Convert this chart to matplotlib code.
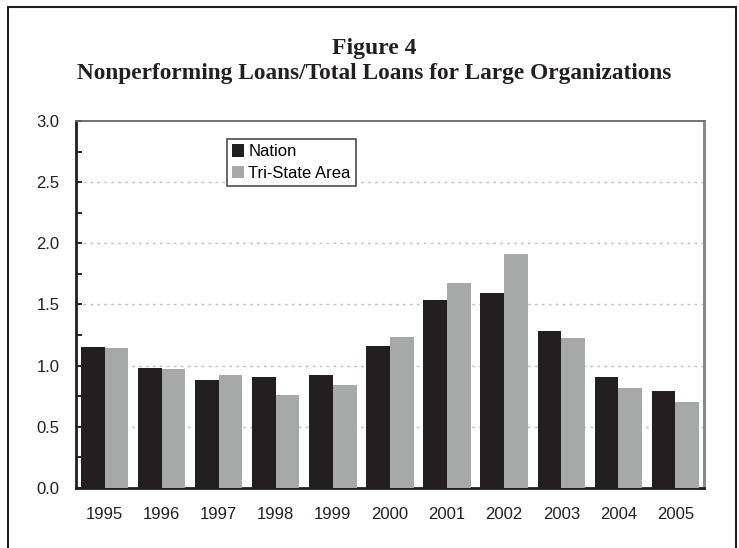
import numpy as np
import matplotlib.pyplot as plt
from matplotlib.patches import Rectangle

# values
years = ['1995', '1996', '1997', '1998', '1999', '2000',
         '2001', '2002', '2003', '2004', '2005']
nation = [1.15, 0.98, 0.88, 0.91, 0.92, 1.16, 1.54, 1.595, 1.285, 0.905, 0.79]
tri_state = [1.145, 0.975, 0.92, 0.76, 0.84, 1.235, 1.675, 1.91, 1.225, 0.815, 0.70]
y_ticks = [0.0, 0.5, 1.0, 1.5, 2.0, 2.5, 3.0]

plt.rcParams['font.family'] = ['Liberation Sans', 'DejaVu Sans']

fig = plt.figure(figsize=(7.39, 5.48), dpi=100)
ax = fig.add_axes([0.1028, 0.1095, 0.8498, 0.6697])

x = np.arange(len(years))
w = 0.415
ax.bar(x - w / 2, nation, width=w, color='#231f20', label='Nation', zorder=3)
ax.bar(x + w / 2, tri_state, width=w, color='#a7a9a8', label='Tri-State Area', zorder=3)

ax.set_xlim(-0.5, len(years) - 0.5)
ax.set_ylim(0, 3.0)
ax.set_yticks(y_ticks)
ax.set_yticklabels([f'{v:.1f}' for v in y_ticks], fontsize=12, color='#231f20')
ax.set_yticks(np.arange(0.25, 3.0, 0.5), minor=True)
ax.tick_params(axis='y', which='both', direction='in', length=4, width=1.2, pad=12)
ax.set_xticks(x)
ax.set_xticklabels(years, fontsize=12, color='#231f20')
ax.tick_params(axis='x', length=0, pad=14)

# dotted horizontal grid
for v in y_ticks[1:-1]:
    ax.axhline(v, color='#c0c0c0', lw=1, ls=(0, (2, 3)), zorder=1)

ax.spines['left'].set_linewidth(2)
ax.spines['bottom'].set_linewidth(2)
ax.spines['left'].set_color('#231f20')
ax.spines['bottom'].set_color('#231f20')
ax.spines['right'].set_color('#8a8a8a')
ax.spines['right'].set_linewidth(2.2)
ax.spines['top'].set_color('#666666')
ax.spines['top'].set_linewidth(1.3)

leg = ax.legend(loc='upper left', bbox_to_anchor=(0.24, 0.95), fontsize=12,
                frameon=True, fancybox=False, handlelength=0.75, handleheight=0.75,
                handletextpad=0.25, labelspacing=0.4, borderpad=0.3,
                borderaxespad=0)
leg.get_frame().set_edgecolor('#231f20')
leg.get_frame().set_linewidth(1.2)

# titles
fig.text(0.506, 0.912, 'Figure 4', ha='center', va='center', fontsize=17,
         family='Liberation Serif', fontweight='bold', color='#231f20')
fig.text(0.506, 0.865, 'Nonperforming Loans/Total Loans for Large Organizations',
         ha='center', va='center', fontsize=16.8, family='Liberation Serif',
         fontweight='bold', color='#231f20')

# outer frame
fig.patches.append(Rectangle((0.011, -0.1), 0.985, 1.087, transform=fig.transFigure,
                             fill=False, edgecolor='#231f20', lw=1.5))

fig.savefig('out.png', dpi=100)
